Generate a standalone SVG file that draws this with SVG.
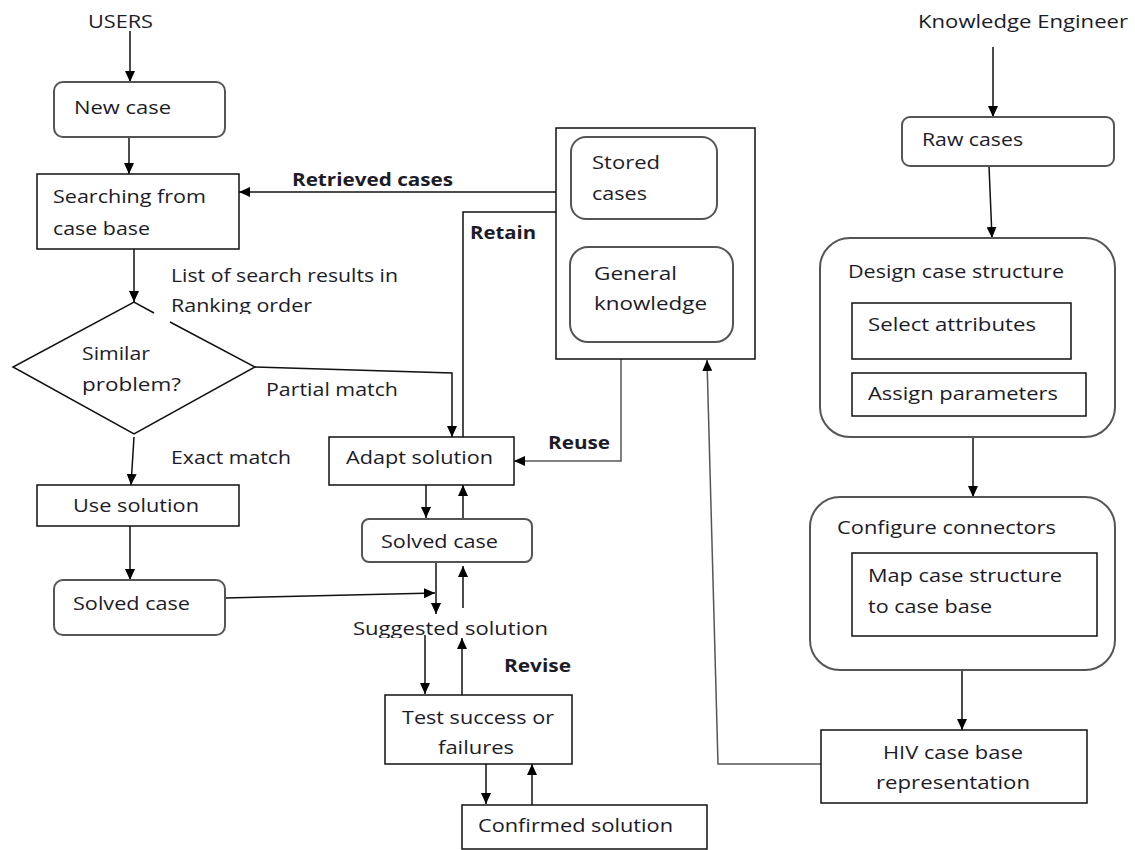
<svg xmlns="http://www.w3.org/2000/svg" width="1135" height="850" viewBox="0 0 1135 850">
<style>
text{font-family:"Open Sans","Liberation Sans",sans-serif;font-size:18px;fill:#1c1c28}
.b{font-weight:bold}
.box{fill:#fff;stroke:#111;stroke-width:1.5}
.rbox{fill:#fff;stroke:#555;stroke-width:2}
.ln{fill:none;stroke:#111;stroke-width:1.5}
.lg{fill:none;stroke:#555;stroke-width:1.5}
</style>
<defs>
<marker id="ah" markerUnits="userSpaceOnUse" markerWidth="12" markerHeight="10" refX="11" refY="5" orient="auto">
<path d="M0,0 L11,5 L0,10 Z" fill="#000"/>
</marker>
<clipPath id="c1"><rect x="160" y="250" width="260" height="64"/></clipPath>
<clipPath id="c2"><rect x="340" y="610" width="220" height="28"/></clipPath>
</defs>

<rect width="1135" height="850" fill="#fff"/>

<g id="connectors">
<line class="ln" x1="130" y1="31" x2="130" y2="82" marker-end="url(#ah)"/>
<line class="ln" x1="129" y1="137" x2="129" y2="174" marker-end="url(#ah)"/>
<line class="ln" x1="571" y1="192" x2="239" y2="192" marker-end="url(#ah)"/>
<line class="ln" x1="134" y1="249" x2="134" y2="302" marker-end="url(#ah)"/>
<polyline class="ln" points="255,367 452,373 452,437" marker-end="url(#ah)"/>
<line class="ln" x1="134" y1="437" x2="131" y2="485" marker-end="url(#ah)"/>
<line class="ln" x1="130" y1="526" x2="130" y2="580" marker-end="url(#ah)"/>
<line class="ln" x1="225" y1="598" x2="435" y2="593" marker-end="url(#ah)"/>
<polyline class="ln" points="463,437 463,212 571,212" marker-end="url(#ah)"/>
<polyline class="lg" points="621,359 621,461 514,461" marker-end="url(#ah)"/>
<line class="ln" x1="426" y1="485" x2="426" y2="518" marker-end="url(#ah)"/>
<line class="ln" x1="463" y1="518" x2="463" y2="485" marker-end="url(#ah)"/>
<line class="ln" x1="436" y1="562" x2="436" y2="614" marker-end="url(#ah)"/>
<line class="ln" x1="463" y1="608" x2="463" y2="566" marker-end="url(#ah)"/>
<line class="ln" x1="425" y1="635" x2="425" y2="694" marker-end="url(#ah)"/>
<line class="ln" x1="462" y1="695" x2="462" y2="638" marker-end="url(#ah)"/>
<line class="ln" x1="486" y1="764" x2="486" y2="804" marker-end="url(#ah)"/>
<line class="ln" x1="532" y1="805" x2="532" y2="764" marker-end="url(#ah)"/>
<polyline class="lg" points="821,764 718,764 707,360" marker-end="url(#ah)"/>
<line class="ln" x1="993" y1="47" x2="993" y2="117" marker-end="url(#ah)"/>
<line class="ln" x1="989" y1="166" x2="992" y2="238" marker-end="url(#ah)"/>
<line class="ln" x1="973" y1="437" x2="973" y2="497" marker-end="url(#ah)"/>
<line class="ln" x1="962" y1="670" x2="962" y2="730" marker-end="url(#ah)"/>
</g>

<g id="users"><text x="88" y="28" textLength="65" lengthAdjust="spacingAndGlyphs">USERS</text></g>

<g id="new-case">
<rect class="rbox" x="54" y="82" width="171" height="55" rx="9"/>
<text x="74" y="114" textLength="97" lengthAdjust="spacingAndGlyphs">New case</text>
</g>

<g id="searching">
<rect class="box" x="37" y="174" width="202" height="75"/>
<text x="53" y="203" textLength="153" lengthAdjust="spacingAndGlyphs">Searching from</text>
<text x="53" y="235" textLength="97" lengthAdjust="spacingAndGlyphs">case base</text>
</g>

<g id="label-retrieved"><text class="b" x="292" y="186" textLength="161" lengthAdjust="spacingAndGlyphs">Retrieved cases</text></g>
<g id="label-retain"><text class="b" x="470" y="239" textLength="66" lengthAdjust="spacingAndGlyphs">Retain</text></g>

<g id="label-list" clip-path="url(#c1)">
<text x="171" y="282" textLength="227" lengthAdjust="spacingAndGlyphs">List of search results in</text>
<text x="171" y="312" textLength="141" lengthAdjust="spacingAndGlyphs">Ranking order</text>
</g>

<g id="similar">
<path class="ln" d="M154,313 L134,302 L13,367 L134,434 L255,367 L170,322"/>
<text x="82" y="360" textLength="68" lengthAdjust="spacingAndGlyphs">Similar</text>
<text x="82" y="391" textLength="99" lengthAdjust="spacingAndGlyphs">problem?</text>
</g>

<g id="label-partial"><text x="266" y="396" textLength="132" lengthAdjust="spacingAndGlyphs">Partial match</text></g>
<g id="label-exact"><text x="171" y="464" textLength="120" lengthAdjust="spacingAndGlyphs">Exact match</text></g>

<g id="use-solution">
<rect class="box" x="37" y="485" width="202" height="41"/>
<text x="73" y="512" textLength="126" lengthAdjust="spacingAndGlyphs">Use solution</text>
</g>

<g id="solved-case-left">
<rect class="rbox" x="54" y="580" width="171" height="55" rx="9"/>
<text x="73" y="610" textLength="117" lengthAdjust="spacingAndGlyphs">Solved case</text>
</g>

<g id="adapt-solution">
<rect class="box" x="329" y="437" width="185" height="48"/>
<text x="346" y="464" textLength="147" lengthAdjust="spacingAndGlyphs">Adapt solution</text>
</g>

<g id="label-reuse"><text class="b" x="548" y="449" textLength="62" lengthAdjust="spacingAndGlyphs">Reuse</text></g>

<g id="solved-case-mid">
<rect class="rbox" x="362" y="519" width="170" height="43" rx="7"/>
<text x="381" y="548" textLength="117" lengthAdjust="spacingAndGlyphs">Solved case</text>
</g>

<g id="suggested-solution" clip-path="url(#c2)">
<text x="353" y="635" textLength="195" lengthAdjust="spacingAndGlyphs">Suggested solution</text>
</g>

<g id="label-revise"><text class="b" x="504" y="672" textLength="67" lengthAdjust="spacingAndGlyphs">Revise</text></g>

<g id="test">
<rect class="box" x="385" y="695" width="187" height="69"/>
<text x="402" y="724" textLength="152" lengthAdjust="spacingAndGlyphs">Test success or</text>
<text x="438" y="754" textLength="76" lengthAdjust="spacingAndGlyphs">failures</text>
</g>

<g id="confirmed">
<rect class="box" x="462" y="805" width="245" height="44"/>
<text x="478" y="832" textLength="195" lengthAdjust="spacingAndGlyphs">Confirmed solution</text>
</g>

<g id="case-base">
<rect class="box" x="556" y="128" width="199" height="231"/>
<g id="stored-cases">
<rect class="rbox" x="571" y="137" width="146" height="82" rx="15"/>
<text x="592" y="169" textLength="68" lengthAdjust="spacingAndGlyphs">Stored</text>
<text x="592" y="200" textLength="55" lengthAdjust="spacingAndGlyphs">cases</text>
</g>
<g id="general-knowledge">
<rect class="rbox" x="570" y="247" width="163" height="95" rx="18"/>
<text x="594" y="280" textLength="83" lengthAdjust="spacingAndGlyphs">General</text>
<text x="594" y="310" textLength="113" lengthAdjust="spacingAndGlyphs">knowledge</text>
</g>
</g>

<g id="knowledge-engineer"><text x="918" y="28" textLength="210" lengthAdjust="spacingAndGlyphs">Knowledge Engineer</text></g>

<g id="raw-cases">
<rect class="rbox" x="902" y="117" width="212" height="49" rx="8"/>
<text x="922" y="146" textLength="101" lengthAdjust="spacingAndGlyphs">Raw cases</text>
</g>

<g id="design-case-structure">
<rect class="rbox" x="820" y="238" width="295" height="199" rx="30"/>
<text x="848" y="278" textLength="216" lengthAdjust="spacingAndGlyphs">Design case structure</text>
<g id="select-attributes">
<rect class="box" x="852" y="303" width="219" height="56"/>
<text x="868" y="331" textLength="168" lengthAdjust="spacingAndGlyphs">Select attributes</text>
</g>
<g id="assign-parameters">
<rect class="box" x="852" y="373" width="234" height="43"/>
<text x="868" y="400" textLength="190" lengthAdjust="spacingAndGlyphs">Assign parameters</text>
</g>
</g>

<g id="configure-connectors">
<rect class="rbox" x="810" y="497" width="305" height="173" rx="30"/>
<text x="837" y="534" textLength="219" lengthAdjust="spacingAndGlyphs">Configure connectors</text>
<g id="map-case-structure">
<rect class="box" x="852" y="553" width="245" height="83"/>
<text x="868" y="582" textLength="194" lengthAdjust="spacingAndGlyphs">Map case structure</text>
<text x="868" y="613" textLength="124" lengthAdjust="spacingAndGlyphs">to case base</text>
</g>
</g>

<g id="hiv-representation">
<rect class="box" x="821" y="730" width="266" height="73"/>
<text x="883" y="759" textLength="140" lengthAdjust="spacingAndGlyphs">HIV case base</text>
<text x="876" y="789" textLength="154" lengthAdjust="spacingAndGlyphs">representation</text>
</g>
</svg>
